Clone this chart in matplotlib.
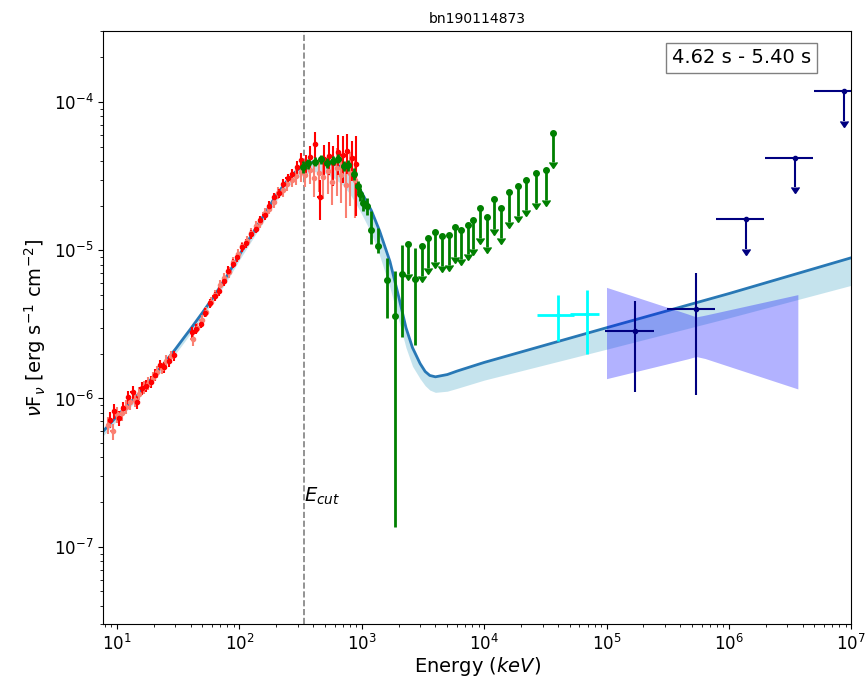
import numpy as np
import matplotlib
matplotlib.use("Agg")
import matplotlib.pyplot as plt

# --- model curve ---
model_E = [7.7, 10, 15, 20, 25, 30, 35, 40, 50, 60, 70, 80, 100, 150, 200, 250, 300,
           400, 500, 600, 700, 800, 900, 1000, 1200, 1400, 1700, 2000, 2300, 2600,
           3000, 3300, 3600, 4000, 5000, 6000, 1e4, 1e5, 1e6, 1e7]
model_F = [6.0e-7, 7.6e-7, 1.07e-6, 1.42e-6, 1.78e-6, 2.15e-6, 2.55e-6, 2.95e-6,
           3.8e-6, 4.7e-6, 5.7e-6, 6.8e-6, 9.3e-6, 1.6e-5, 2.35e-5, 3.0e-5, 3.5e-5,
           3.95e-5, 4.0e-5, 3.85e-5, 3.6e-5, 3.25e-5, 2.85e-5, 2.45e-5, 1.85e-5,
           1.35e-5, 8.4e-6, 4.9e-6, 3.0e-6, 2.2e-6, 1.72e-6, 1.52e-6, 1.43e-6,
           1.40e-6, 1.45e-6, 1.53e-6, 1.75e-6, 3.0e-6, 5.1e-6, 8.9e-6]
model_lo = [5.6e-7, 7.1e-7, 1.0e-6, 1.33e-6, 1.66e-6, 2.0e-6, 2.37e-6, 2.75e-6,
            3.55e-6, 4.4e-6, 5.3e-6, 6.3e-6, 8.6e-6, 1.46e-5, 2.15e-5, 2.7e-5, 3.1e-5,
            3.4e-5, 3.3e-5, 3.05e-5, 2.75e-5, 2.4e-5, 2.05e-5, 1.75e-5, 1.3e-5,
            9.2e-6, 5.6e-6, 3.4e-6, 2.2e-6, 1.65e-6, 1.36e-6, 1.22e-6, 1.14e-6,
            1.1e-6, 1.12e-6, 1.17e-6, 1.33e-6, 2.15e-6, 3.5e-6, 5.8e-6]

# --- NaI detectors ---
red_E = [8.8, 9.5, 10.4, 11.3, 12.3, 13.4, 14.6, 15.9, 17.3, 18.9, 20.6, 22.4, 24.4,
         26.6, 29.0, 40.9, 44.5, 48.5, 52.9, 57.6, 62.8, 68.4, 74.5, 81.2, 88.5,
         96.4, 105, 114, 125, 136, 148, 161, 176, 192, 209, 228, 248, 270, 295,
         321, 350, 381, 416, 453, 494, 538, 587, 640, 697, 760, 828, 900]
red_F = [0.72, 0.82, 0.74, 0.86, 1.02, 1.10, 0.95, 1.18, 1.22, 1.30, 1.45, 1.68, 1.62,
         1.78, 1.95, 2.8, 2.95, 3.2, 3.8, 4.4, 4.9, 5.3, 6.2, 7.3, 8.1,
         9.0, 10.5, 11.2, 12.8, 14.0, 16.0, 17.2, 20.0, 22.8, 24.2, 27.8, 30.5, 32.5,
         36.5, 40.5, 38.0, 42.5, 52.0, 23.0, 41.0, 43.0, 39.0, 46.0, 44.0, 47.0,
         42.0, 38.0]
red_rel = [0.12, 0.12, 0.12, 0.1, 0.1, 0.1, 0.1, 0.1, 0.09, 0.09, 0.09, 0.08, 0.08,
           0.08, 0.08, 0.08, 0.08, 0.07, 0.07, 0.07, 0.07, 0.07, 0.07, 0.07, 0.07,
           0.07, 0.07, 0.07, 0.07, 0.07, 0.07, 0.07, 0.07, 0.07, 0.07, 0.08, 0.08,
           0.09, 0.1, 0.12, 0.15, 0.18, 0.2, 0.3, 0.25, 0.25, 0.3, 0.3, 0.35, 0.3,
           0.3, 0.55]

salmon_E = [8.5, 9.2, 10.0, 10.9, 11.8, 12.9, 14.0, 15.2, 16.6, 18.1, 19.7, 21.4, 23.3,
            25.4, 27.6, 41.5, 45.2, 49.2, 53.6, 58.3, 63.5, 69.1, 75.2, 81.9, 89.1,
            97.0, 106, 115, 125, 136, 148, 161, 175, 191, 208, 226, 246, 268, 292,
            318, 346, 377, 410, 446, 486, 529, 576, 627, 683, 743, 809, 880]
salmon_F = [0.66, 0.60, 0.78, 0.80, 0.88, 0.94, 0.98, 1.08, 1.20, 1.26, 1.38, 1.52, 1.60,
            1.80, 1.92, 2.5, 3.0, 3.4, 3.85, 4.5, 5.0, 5.8, 6.5, 7.1, 8.3,
            9.4, 10.6, 11.6, 13.0, 14.6, 15.4, 17.8, 19.0, 21.2, 24.5, 25.5, 27.8, 30.0,
            31.5, 33.5, 32.0, 35.0, 30.5, 33.0, 31.0, 34.0, 29.0, 36.0, 32.0, 27.5,
            33.0, 30.0]
salmon_rel = [0.13, 0.13, 0.12, 0.12, 0.11, 0.11, 0.1, 0.1, 0.1, 0.1, 0.09, 0.09, 0.09,
              0.09, 0.09, 0.09, 0.08, 0.08, 0.08, 0.08, 0.08, 0.08, 0.08, 0.08, 0.08,
              0.08, 0.08, 0.08, 0.08, 0.08, 0.08, 0.08, 0.08, 0.09, 0.09, 0.1, 0.1,
              0.11, 0.12, 0.14, 0.16, 0.2, 0.25, 0.25, 0.28, 0.3, 0.3, 0.35, 0.35, 0.4,
              0.4, 0.45]
nai_bin = 0.04

# --- BGO detections ---
green_E = [330, 366, 415, 463, 518, 588, 645, 710, 779, 866, 925, 975, 1030, 1100,
           1186, 1370, 1605, 1876, 2128, 2750]
green_F = [3.64e-5, 3.85e-5, 3.96e-5, 4.1e-5, 3.9e-5, 4.03e-5, 4.14e-5, 3.7e-5,
           3.75e-5, 3.28e-5, 2.7e-5, 2.38e-5, 2.09e-5, 1.98e-5, 1.38e-5, 1.06e-5,
           6.34e-6, 3.58e-6, 6.9e-6, 6.44e-6]
green_lo = [3.3e-5, 3.55e-5, 3.7e-5, 3.8e-5, 3.6e-5, 3.75e-5, 3.85e-5, 3.4e-5,
            3.45e-5, 3.0e-5, 2.45e-5, 2.15e-5, 1.85e-5, 1.72e-5, 1.10e-5, 9.6e-6,
            3.49e-6, 1.36e-7, 2.6e-6, 2.3e-6]
green_hi = [4.0e-5, 4.15e-5, 4.25e-5, 4.4e-5, 4.2e-5, 4.35e-5, 4.45e-5, 4.0e-5,
            4.05e-5, 3.6e-5, 2.95e-5, 2.62e-5, 2.35e-5, 2.25e-5, 1.84e-5, 1.41e-5,
            8.87e-6, 7.2e-6, 1.09e-5, 1.04e-5]
green_bin = 0.04

# --- BGO upper limits ---
green_ul_E = [2410, 3100, 3510, 3980, 4520, 5120, 5730, 6500, 7380, 8190, 9290, 10530,
              11940, 13710, 15950, 18760, 22080, 26650, 32000, 36500]
green_ul_F = [1.10e-5, 1.06e-5, 1.21e-5, 1.33e-5, 1.24e-5, 1.26e-5, 1.43e-5, 1.38e-5,
              1.49e-5, 1.61e-5, 1.93e-5, 1.67e-5, 2.20e-5, 1.93e-5, 2.48e-5, 2.70e-5,
              2.97e-5, 3.31e-5, 3.46e-5, 6.21e-5]
ul_drop = 0.63

# --- LLE points ---
cyan_E = [40100, 69300]
cyan_Elo = [27200, 50600]
cyan_Ehi = [53800, 87300]
cyan_F = [3.68e-6, 3.74e-6]
cyan_Flo = [2.43e-6, 1.99e-6]
cyan_Fhi = [5.02e-6, 5.42e-6]

# --- LAT points, upper limits and butterfly ---
lat_E = [1.72e5, 5.40e5]
lat_Elo = [9.77e4, 3.12e5]
lat_Ehi = [2.43e5, 7.74e5]
lat_F = [2.84e-6, 4.01e-6]
lat_Flo = [1.11e-6, 1.06e-6]
lat_Fhi = [4.52e-6, 7.03e-6]

lat_ul_E = [1.37e6, 3.44e6, 8.69e6]
lat_ul_Elo = [7.9e5, 1.96e6, 4.93e6]
lat_ul_Ehi = [1.95e6, 4.88e6, 1.5e7]
lat_ul_F = [1.62e-5, 4.21e-5, 1.19e-4]

bow_E = [1e5, 4.6e5, 5.4e5, 6.4e5, 3.66e6]
bow_hi = [5.62e-6, 3.72e-6, 3.55e-6, 3.65e-6, 5.02e-6]
bow_lo = [1.36e-6, 1.85e-6, 1.92e-6, 1.86e-6, 1.16e-6]

E_cut = 338
title = "bn190114873"
time_label = "4.62 s - 5.40 s"


fig = plt.figure(figsize=(8.66, 6.8), dpi=100)
ax = fig.add_axes([0.119, 0.082, 0.864, 0.872])

ax.fill_between(model_E, model_lo, model_F, color="lightblue", alpha=0.7, lw=0)
ax.plot(model_E, model_F, color="#2878b5", lw=2)

# NaI
sE, sF = np.array(salmon_E), np.array(salmon_F) * 1e-6
ax.errorbar(sE, sF, xerr=sE * nai_bin, yerr=sF * np.array(salmon_rel),
            fmt="o", ms=3, color="salmon", elinewidth=1.5, zorder=3)
rE, rF = np.array(red_E), np.array(red_F) * 1e-6
ax.errorbar(rE, rF, xerr=rE * nai_bin, yerr=rF * np.array(red_rel),
            fmt="o", ms=3, color="red", elinewidth=1.5, zorder=3)

# BGO
gE, gF = np.array(green_E), np.array(green_F)
ax.errorbar(gE, gF, xerr=gE * green_bin,
            yerr=[gF - np.array(green_lo), np.array(green_hi) - gF],
            fmt="o", ms=4, color="green", elinewidth=2, zorder=4)
uE, uF = np.array(green_ul_E), np.array(green_ul_F)
ax.errorbar(uE, uF, yerr=uF * (1 - ul_drop), uplims=True,
            fmt="o", ms=4, color="green", elinewidth=2, zorder=4)

# LLE
cE, cF = np.array(cyan_E), np.array(cyan_F)
ax.errorbar(cE, cF, xerr=[cE - np.array(cyan_Elo), np.array(cyan_Ehi) - cE],
            yerr=[cF - np.array(cyan_Flo), np.array(cyan_Fhi) - cF],
            fmt=".", ms=4, color="cyan", elinewidth=2, zorder=4)

# LAT
ax.fill_between(bow_E, bow_lo, bow_hi, color="blue", alpha=0.3, lw=0, zorder=5)
lE, lF = np.array(lat_E), np.array(lat_F)
ax.errorbar(lE, lF, xerr=[lE - np.array(lat_Elo), np.array(lat_Ehi) - lE],
            yerr=[lF - np.array(lat_Flo), np.array(lat_Fhi) - lF],
            fmt="o", ms=3, color="navy", elinewidth=1.5, zorder=6)
vE, vF = np.array(lat_ul_E), np.array(lat_ul_F)
ax.errorbar(vE, vF, xerr=[vE - np.array(lat_ul_Elo), np.array(lat_ul_Ehi) - vE],
            yerr=vF * (1 - ul_drop), uplims=True,
            fmt="o", ms=3, color="navy", elinewidth=1.5, zorder=6)

ax.axvline(E_cut, color="grey", ls="--", lw=1.2)
ax.text(E_cut, 2.2e-7, "$E_{cut}$", fontsize=14, ha="left", va="center")

ax.text(0.853, 0.955, time_label, transform=ax.transAxes, ha="center", va="center",
        fontsize=14, bbox=dict(boxstyle="square,pad=0.3", facecolor="white",
                               edgecolor="grey"))

ax.set_xscale("log")
ax.set_yscale("log")
ax.set_xlim(7.7, 1e7)
ax.set_ylim(3e-8, 3e-4)
ax.tick_params(labelsize=12)
ax.set_xlabel("Energy ($keV$)", fontsize=14, labelpad=1)
ax.set_ylabel(r"$\nu$F$_\nu$ [erg s$^{-1}$ cm$^{-2}$]", fontsize=14)
ax.set_title(title, fontsize=10)

fig.savefig("out.png", dpi=100)
